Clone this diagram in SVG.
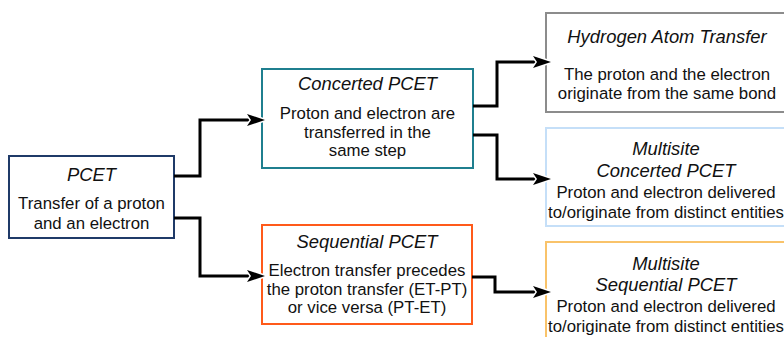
<svg xmlns="http://www.w3.org/2000/svg" width="784" height="337" viewBox="0 0 784 337">
<style>
  .box { fill: #fff; stroke-width: 2; }
  .t { font-family: "Liberation Sans", Arial, sans-serif; font-size: 18.4px; font-style: italic; fill: #111; text-anchor: middle; }
  .b { font-family: "Liberation Sans", Arial, sans-serif; font-size: 16.8px; fill: #111; text-anchor: middle; }
  .conn { fill: none; stroke: #000; stroke-width: 3; }
</style>
<defs>
  <marker id="arr" markerUnits="userSpaceOnUse" markerWidth="24" markerHeight="20" refX="4" refY="10" orient="auto" viewBox="-2 0 24 20">
    <path d="M0,4 L18,10 L0,16 L4,10 Z" fill="#000" stroke="#fff" stroke-width="3" paint-order="stroke" stroke-linejoin="round"/>
  </marker>
</defs>
<rect width="784" height="337" fill="#fff"/>

<g id="pcet">
  <rect class="box" x="9" y="156" width="165" height="82" stroke="#1f3a68"/>
  <text class="t" x="91.5" y="180.5">PCET</text>
  <text class="b" x="91.5" y="209">Transfer of a proton</text>
  <text class="b" x="91.5" y="229">and an electron</text>
</g>

<g id="concerted">
  <rect class="box" x="262" y="69" width="211" height="99" stroke="#1f7f8f"/>
  <text class="t" x="367.5" y="90">Concerted PCET</text>
  <text class="b" x="367.5" y="119">Proton and electron are</text>
  <text class="b" x="367.5" y="138">transferred in the</text>
  <text class="b" x="367.5" y="156">same step</text>
</g>

<g id="sequential">
  <rect class="box" x="262" y="225" width="210" height="99" stroke="#ff5a1a"/>
  <text class="t" x="367" y="248">Sequential PCET</text>
  <text class="b" x="367" y="276">Electron transfer precedes</text>
  <text class="b" x="367" y="295">the proton transfer (ET-PT)</text>
  <text class="b" x="367" y="313">or vice versa (PT-ET)</text>
</g>

<g id="hat">
  <rect class="box" x="546" y="13" width="250" height="99" stroke="#8c8c8c"/>
  <text class="t" x="667" y="43">Hydrogen Atom Transfer</text>
  <text class="b" x="667" y="80">The proton and the electron</text>
  <text class="b" x="667" y="99">originate from the same bond</text>
</g>

<g id="multisite-concerted">
  <rect class="box" x="546" y="128" width="250" height="98" stroke="#c5dff8"/>
  <text class="t" x="666" y="155">Multisite</text>
  <text class="t" x="666" y="176.5">Concerted PCET</text>
  <text class="b" x="666" y="198">Proton and electron delivered</text>
  <text class="b" x="666" y="218">to/originate from distinct entities</text>
</g>

<g id="multisite-sequential">
  <rect class="box" x="546" y="242" width="250" height="98" stroke="#f9c36a"/>
  <text class="t" x="666" y="270">Multisite</text>
  <text class="t" x="666" y="290.5">Sequential PCET</text>
  <text class="b" x="666" y="312">Proton and electron delivered</text>
  <text class="b" x="666" y="332">to/originate from distinct entities</text>
</g>

<g id="connectors">
  <path class="conn" d="M174,176 H200 V120 H251" marker-end="url(#arr)"/>
  <path class="conn" d="M174,218 H200 V276 H251" marker-end="url(#arr)"/>
  <path class="conn" d="M473,106 H497 V62 H537" marker-end="url(#arr)"/>
  <path class="conn" d="M473,135 H497 V179 H537" marker-end="url(#arr)"/>
  <path class="conn" d="M472,277 H495 V292 H537" marker-end="url(#arr)"/>
</g>
</svg>
